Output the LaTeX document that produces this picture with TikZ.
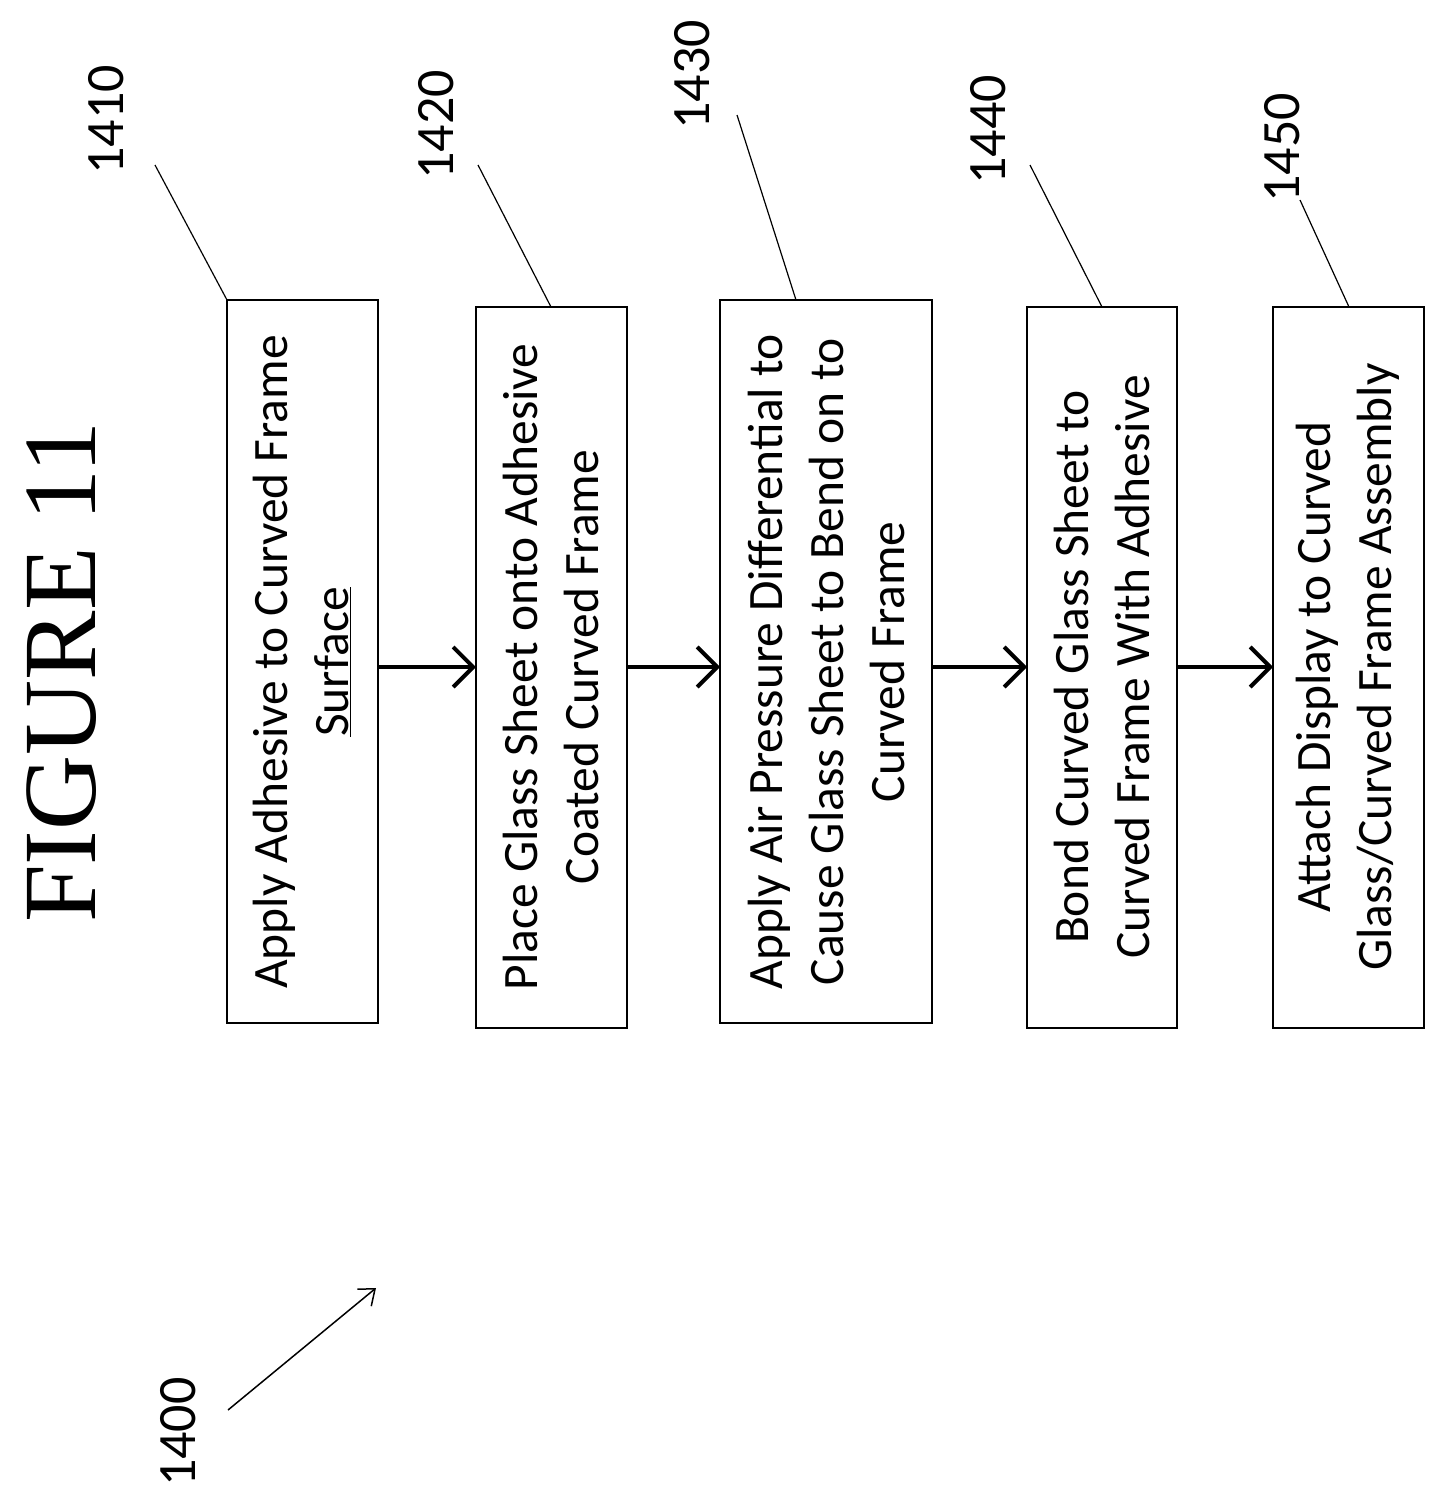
\documentclass[tikz,border=0pt]{standalone}
\usepackage{fontspec}
\setmainfont{Carlito}
\newfontfamily\serif{Liberation Serif}
\usetikzlibrary{arrows.meta}
\begin{document}
\begin{tikzpicture}[x=1pt,y=-1pt,
  box/.style={draw,line width=1.8pt},
  txt/.style={rotate=90,align=center,font=\fontsize{49.5}{61}\selectfont},
  lab/.style={rotate=90,font=\fontsize{54}{60}\selectfont},
  lead/.style={line width=1.2pt},
  arr/.style={line width=4pt,-{Straight Barb[length=20pt,width=40pt,line width=4pt]}}]
\useasboundingbox (0,0) rectangle (1448,1509);
\node[rotate=90,font=\serif\fontsize{104}{110}\selectfont] (fig) at (62,672) {FIGURE 11};
\foreach \n/\l/\r/\t/\b in {a/227/378/300/1023, b/476/627/307/1028, c/720/932/300/1023, d/1027/1177/307/1028, e/1273/1424/307/1028}{
  \draw[box] (\l,\t) rectangle (\r,\b);
  \coordinate (\n-L) at (\l,667); \coordinate (\n-R) at (\r,667);
}
\node[txt] (ta) at (302,662) {Apply Adhesive to Curved Frame\\\underline{Surface}};
\node[txt] (tb) at (551,667) {Place Glass Sheet onto Adhesive\\Coated Curved Frame};
\node[txt] (tc) at (826,662) {Apply Air Pressure Differential to\\Cause Glass Sheet to Bend on to\\Curved Frame};
\node[txt] (td) at (1102,667) {Bond Curved Glass Sheet to\\Curved Frame With Adhesive};
\node[txt] (te) at (1348,667) {Attach Display to Curved\\Glass/Curved Frame Assembly};
\draw[arr] (a-R) -- (b-L);
\draw[arr] (b-R) -- (c-L);
\draw[arr] (c-R) -- (d-L);
\draw[arr] (d-R) -- (e-L);
\node[lab] (l1) at (106,120) {1410};
\node[lab] (l2) at (436,125) {1420};
\node[lab] (l3) at (692,75) {1430};
\node[lab] (l4) at (988,130) {1440};
\node[lab] (l5) at (1282,148) {1450};
\node[lab] (l0) at (178,1432) {1400};
\coordinate (p1) at (155,165); \coordinate (q1) at (227,300);
\coordinate (p2) at (478,165); \coordinate (q2) at (551,307);
\coordinate (p3) at (737,115); \coordinate (q3) at (796,300);
\coordinate (p4) at (1030,165); \coordinate (q4) at (1102,307);
\coordinate (p5) at (1300,200); \coordinate (q5) at (1349,307);
\foreach \i in {1,...,5}{\draw[lead] (p\i) -- (q\i);}
\coordinate (p0) at (228,1410); \coordinate (q0) at (376,1288);
\draw[line width=1.5pt,-{Straight Barb[length=14pt,width=22pt,line width=1.5pt]}] (p0) -- (q0);
\end{tikzpicture}
\end{document}
